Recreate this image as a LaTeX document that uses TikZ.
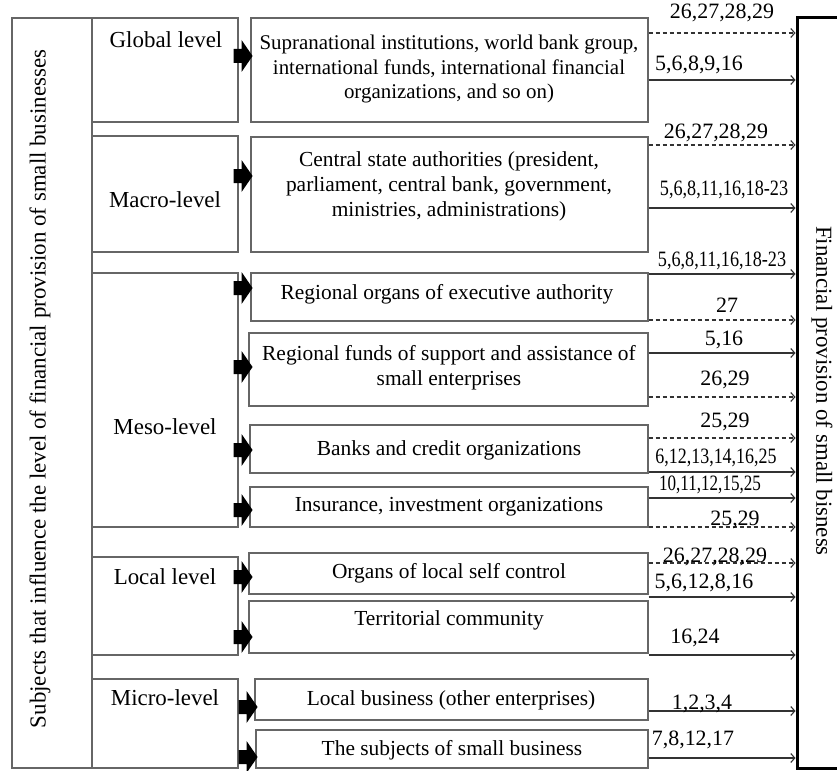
\documentclass[tikz,border=0pt]{standalone}
\usepackage{fontspec}
\setmainfont{Liberation Serif}
\usepackage{graphicx}
\usetikzlibrary{arrows.meta}
\begin{document}
\begin{tikzpicture}[x=1bp,y=-1bp,
  box/.style={draw=black!60, line width=1.1bp, inner sep=0pt},
  txt/.style={font=\fontsize{21.5}{25}\selectfont, align=center, inner sep=0pt},
  bigtxt/.style={font=\fontsize{23}{25}\selectfont, align=center, inner sep=0pt},
  lab/.style={font=\fontsize{22}{25}\selectfont, inner sep=0pt},
  solidarr/.style={draw=black!80, line width=1.1bp, -{Straight Barb[length=4bp,width=9bp]}},
  dasharr/.style={solidarr, dash pattern=on 4bp off 3bp},
  barrow/.pic={\fill[black] (-9,-7) -- (-1,-7) -- (-1,-16) -- (10,0) -- (-1,16) -- (-1,7) -- (-9,7) -- cycle;}
]
\useasboundingbox (0,0) rectangle (837,771);

% left column
\node[box, minimum width=80bp, minimum height=750bp] (side) at (52,393) {};
\node[bigtxt, rotate=90] (sidetxt) at (40,389) {Subjects that influence the level of financial provision of small businesses};

% level boxes
\node[box, minimum width=146bp, minimum height=104bp] (glob) at (165,70) {};
\node[box, minimum width=146bp, minimum height=116bp] (macro) at (165,194) {};
\node[box, minimum width=146bp, minimum height=254bp] (meso) at (165,400) {};
\node[box, minimum width=146bp, minimum height=98bp] (local) at (165,606) {};
\node[box, minimum width=146bp, minimum height=89bp] (micro) at (165,723.5) {};
\node[bigtxt] (globt) at (166,40) {Global level};
\node[bigtxt] (macrot) at (165,200) {Macro-level};
\node[bigtxt] (mesot) at (165,427) {Meso-level};
\node[bigtxt] (localt) at (165,577) {Local level};
\node[bigtxt] (microt) at (165,698) {Micro-level};

% middle boxes
\node[box, minimum width=397bp, minimum height=104bp] (gmid) at (449.5,70) {};
\node[box, minimum width=397bp, minimum height=115bp] (mmid) at (449.5,194.5) {};
\node[box, minimum width=397bp, minimum height=48bp] (rorg) at (449.5,297) {};
\node[box, minimum width=399bp, minimum height=73bp] (rfund) at (448.5,369.5) {};
\node[box, minimum width=398bp, minimum height=48bp] (banks) at (449,449) {};
\node[box, minimum width=398bp, minimum height=40bp] (ins) at (449,507) {};
\node[box, minimum width=399bp, minimum height=41bp] (olocal) at (448.5,573.5) {};
\node[box, minimum width=399bp, minimum height=52bp] (terr) at (448.5,627) {};
\node[box, minimum width=393bp, minimum height=41bp] (lbus) at (451.5,699.5) {};
\node[box, minimum width=392bp, minimum height=38bp] (subj) at (452,749) {};

\node[txt, font=\fontsize{21}{25}\selectfont] at (449,69) {Supranational institutions, world bank group,\\international funds, international financial\\organizations, and so on)};
\node[txt] at (449,186) {Central state authorities (president,\\parliament, central bank, government,\\ministries, administrations)};
\node[txt] at (447,294) {Regional organs of executive authority};
\node[txt] at (449,368) {Regional funds of support and assistance of\\small enterprises};
\node[txt] at (449,450) {Banks and credit organizations};
\node[txt] at (449,507) {Insurance, investment organizations};
\node[txt] at (449,573) {Organs of local self control};
\node[txt] at (449,620) {Territorial community};
\node[txt] at (451,700) {Local business (other enterprises)};
\node[txt] at (452,750) {The subjects of small business};

% block arrows
\pic[xshift=4bp] at (glob.east |- 0,56) {barrow};
\pic[xshift=4bp] at (macro.east |- 0,176) {barrow};
\pic[xshift=4bp] at (meso.east |- 0,288) {barrow};
\pic[xshift=4bp] at (meso.east |- 0,367) {barrow};
\pic[xshift=4bp] at (meso.east |- 0,450) {barrow};
\pic[xshift=4bp] at (meso.east |- 0,510) {barrow};
\pic[xshift=4bp] at (local.east |- 0,577) {barrow};
\pic[xshift=4bp] at (local.east |- 0,637) {barrow};
\pic[xshift=9bp] at (micro.east |- 0,707) {barrow};
\pic[xshift=9bp] at (micro.east |- 0,757) {barrow};

% right box
\node[draw=black, line width=3bp, inner sep=0pt, minimum width=73bp, minimum height=750bp] (fin) at (833.5,393) {};
\node[bigtxt, rotate=-90] (fint) at (822,391) {Financial provision of small bisness};

% connectors
\draw[dasharr] (gmid.east |- 0,33) -- (fin.west |- 0,33);
\draw[solidarr] (gmid.east |- 0,80) -- (fin.west |- 0,80);
\draw[dasharr] (mmid.east |- 0,145) -- (fin.west |- 0,145);
\draw[solidarr] (mmid.east |- 0,208) -- (fin.west |- 0,208);
\draw[solidarr] (rorg.east |- 0,274) -- (fin.west |- 0,274);
\draw[dasharr] (rorg.east |- 0,320) -- (fin.west |- 0,320);
\draw[solidarr] (rfund.east |- 0,353) -- (fin.west |- 0,353);
\draw[dasharr] (rfund.east |- 0,397) -- (fin.west |- 0,397);
\draw[dasharr] (banks.east |- 0,438) -- (fin.west |- 0,438);
\draw[solidarr] (banks.east |- 0,472) -- (fin.west |- 0,472);
\draw[solidarr] (ins.east |- 0,498) -- (fin.west |- 0,498);
\draw[dasharr] (ins.east |- 0,527) -- (fin.west |- 0,527);
\draw[dasharr] (olocal.east |- 0,563) -- (fin.west |- 0,563);
\draw[solidarr] (olocal.east |- 0,597) -- (fin.west |- 0,597);
\draw[solidarr] (terr.east |- 0,655) -- (fin.west |- 0,655);
\draw[solidarr] (lbus.east |- 0,711) -- (fin.west |- 0,711);
\draw[solidarr] (subj.east |- 0,758) -- (fin.west |- 0,758);

% connector labels
\node[lab] at (722,13) {26,27,28,29};
\node[lab] at (699,65) {5,6,8,9,16};
\node[lab] at (716,133) {26,27,28,29};
\node[lab] at (724,190) {\scalebox{0.83}[1]{5,6,8,11,16,18-23}};
\node[lab] at (722,261) {\scalebox{0.83}[1]{5,6,8,11,16,18-23}};
\node[lab] at (727,305) {27};
\node[lab] at (724,340) {5,16};
\node[lab] at (725,380) {26,29};
\node[lab] at (725,422) {25,29};
\node[lab] at (716,458) {\scalebox{0.82}[1]{6,12,13,14,16,25}};
\node[lab] at (710,485) {\scalebox{0.78}[1]{10,11,12,15,25}};
\node[lab] at (735,520) {25,29};
\node[lab] at (715,557) {26,27,28,29};
\node[lab] at (704,583) {5,6,12,8,16};
\node[lab] at (695,638) {16,24};
\node[lab] at (702,704) {1,2,3,4};
\node[lab] at (693,740) {7,8,12,17};
\end{tikzpicture}
\end{document}
